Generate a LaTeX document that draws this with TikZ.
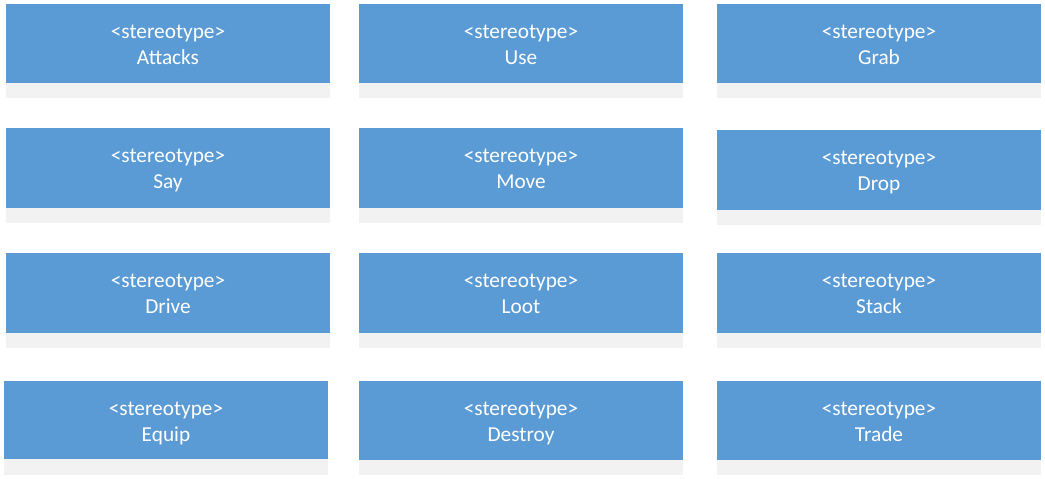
\documentclass[tikz,border=0pt]{standalone}
\usepackage{fontspec}
\setmainfont{Carlito}
\definecolor{boxblue}{HTML}{5B9BD5}
\definecolor{stripgrey}{HTML}{F2F2F2}
\tikzset{
  bluebox/.style={fill=boxblue, draw=none},
  greystrip/.style={fill=stripgrey, draw=none},
  boxtext/.style={text=white, font=\fontsize{21.3}{25}\selectfont, anchor=base, inner sep=0pt}
}
\begin{document}
\begin{tikzpicture}[x=1pt,y=-1pt]
\useasboundingbox (0,0) rectangle (1045,479);
% l, t, blue bottom, grey bottom, r, name, id
\foreach \l/\t/\b/\g/\r/\name/\id in {
  6/4/83/98/330/Attacks/a,
  359/4/83/98/683/Use/b,
  717/4/83/98/1041/Grab/c,
  6/128/208/223/330/Say/d,
  359/128/208/223/683/Move/e,
  717/130/210/225/1041/Drop/f,
  6/253/333/348/330/Drive/g,
  359/253/333/348/683/Loot/h,
  717/253/333/348/1041/Stack/i,
  4/381/459/475/328/Equip/j,
  359/381/460/475/683/Destroy/k,
  717/381/460/475/1041/Trade/l}{
  \fill[greystrip] (\l,\b) rectangle (\r,\g);
  \fill[bluebox] (\l,\t) rectangle (\r,\b);
  \node[boxtext] (st\id) at ({(\l+\r)/2},{\t+34}) {<stereotype>};
  \node[boxtext] (nm\id) at ({(\l+\r)/2},{\t+60}) {\name};
}
\end{tikzpicture}
\end{document}
